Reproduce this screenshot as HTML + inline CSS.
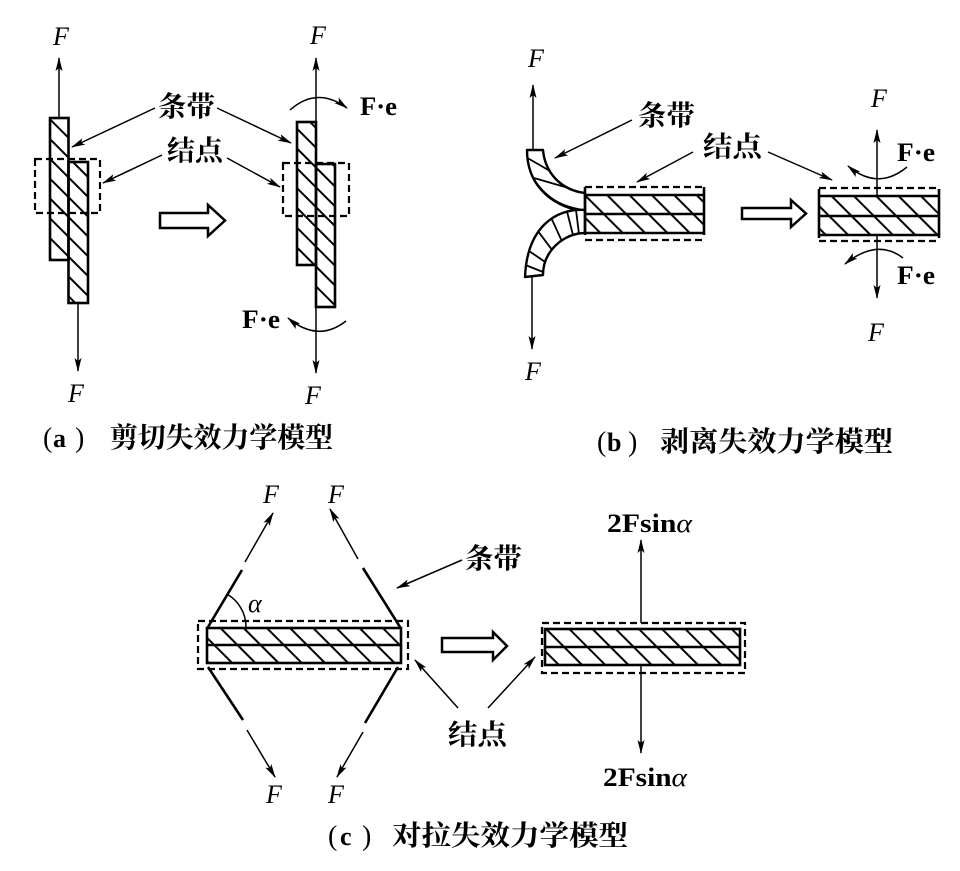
<!DOCTYPE html>
<html><head><meta charset="utf-8"><style>
html,body{margin:0;padding:0;background:#fff;}
svg{display:block;}
.cj{font-family:"Noto Serif CJK SC","Noto Serif CJK JP","Liberation Serif",serif;font-size:28px;font-weight:bold;}
.fi{font-family:"Liberation Serif",serif;font-style:italic;font-size:26px;}
.fb{font-family:"Liberation Serif",serif;font-weight:bold;font-size:26px;}
</style></head><body>
<svg width="960" height="871" viewBox="0 0 960 871" xmlns="http://www.w3.org/2000/svg">
<defs>
<marker id="ah" markerUnits="userSpaceOnUse" markerWidth="14" markerHeight="8" refX="13" refY="4" orient="auto" viewBox="0 0 14 8"><path d="M0,0.5 L14,4 L0,7.5 L3,4Z" fill="#000"/></marker>
<marker id="as" markerUnits="userSpaceOnUse" markerWidth="14" markerHeight="8" refX="13" refY="4" orient="auto-start-reverse" viewBox="0 0 14 8"><path d="M0,0.5 L14,4 L0,7.5 L3,4Z" fill="#000"/></marker>
<pattern id="h1" width="14" height="10" patternUnits="userSpaceOnUse" patternTransform="rotate(-45)"><line x1="7" y1="-1" x2="7" y2="11" stroke="#000" stroke-width="2"/></pattern>
<pattern id="h2" width="15.8" height="10" patternUnits="userSpaceOnUse" patternTransform="rotate(-45)"><line x1="7" y1="-1" x2="7" y2="11" stroke="#000" stroke-width="2"/></pattern>
<pattern id="h3" width="16.4" height="10" patternUnits="userSpaceOnUse" patternTransform="rotate(-45)"><line x1="7" y1="-1" x2="7" y2="11" stroke="#000" stroke-width="2"/></pattern>
</defs>
<rect width="960" height="871" fill="#fff"/>

<!-- ===== (a) left ===== -->
<g stroke="#000" fill="none">
<line x1="59" y1="118" x2="59" y2="58" stroke-width="1.5" marker-end="url(#ah)"/>
<line x1="78" y1="303" x2="78" y2="371" stroke-width="1.5" marker-end="url(#ah)"/>
<rect x="50" y="118" width="18.5" height="142" fill="url(#h1)" stroke-width="2.6"/>
<rect x="68.5" y="162" width="19.5" height="141" fill="url(#h1)" stroke-width="2.6"/>
<rect x="35" y="159" width="65" height="54" stroke-width="2.2" stroke-dasharray="7,4"/>
<line x1="155" y1="108" x2="72" y2="147" stroke-width="1.5" marker-end="url(#ah)"/>
<line x1="217" y1="108" x2="291" y2="143" stroke-width="1.5" marker-end="url(#ah)"/>
<line x1="162" y1="155" x2="103" y2="183" stroke-width="1.5" marker-end="url(#ah)"/>
<line x1="227" y1="158" x2="280" y2="187" stroke-width="1.5" marker-end="url(#ah)"/>
<polygon points="160,213 208,213 208,205 225,220.5 208,236 208,228 160,228" fill="#fff" stroke-width="2.5" stroke-linejoin="miter"/>
</g>
<text class="fi" x="53" y="45">F</text>
<text class="fi" x="68" y="402">F</text>
<text class="cj" x="158" y="116" textLength="57" lengthAdjust="spacingAndGlyphs">条带</text>
<text class="cj" x="167" y="160" textLength="56" lengthAdjust="spacingAndGlyphs">结点</text>

<!-- ===== (a) right ===== -->
<g stroke="#000" fill="none">
<line x1="316" y1="373" x2="316" y2="58" stroke-width="1.5" marker-start="url(#as)" marker-end="url(#ah)"/>
<rect x="297" y="122" width="19" height="143" fill="url(#h1)" stroke-width="2.6"/>
<rect x="316" y="164" width="19" height="143" fill="url(#h1)" stroke-width="2.6"/>
<rect x="283" y="163" width="66" height="53" stroke-width="2.2" stroke-dasharray="7,4"/>
<path d="M290,110 Q317,86 347,108" stroke-width="1.5" marker-end="url(#ah)"/>
<path d="M346,321 Q318,343 288,318" stroke-width="1.5" marker-end="url(#ah)"/>
</g>
<text class="fi" x="310" y="44">F</text>
<text class="fi" x="305" y="404">F</text>
<text class="fb" x="360" y="115" textLength="37" lengthAdjust="spacingAndGlyphs">F·e</text>
<text class="fb" x="242" y="328" textLength="38" lengthAdjust="spacingAndGlyphs">F·e</text>

<!-- ===== (b) left ===== -->
<g stroke="#000" fill="none">
<line x1="533" y1="150" x2="533" y2="85" stroke-width="1.5" marker-end="url(#ah)"/>
<line x1="532" y1="277" x2="532" y2="349" stroke-width="1.5" marker-end="url(#ah)"/>
<path d="M527,150 C527,180 545,205 585,212 L585,193 C560,190 545,172 543,150 Z" fill="#fff" stroke-width="2.4" stroke-linejoin="round"/>
<line x1="527.5" y1="158" x2="550" y2="171" stroke-width="1.8"/>
<line x1="534" y1="178" x2="565" y2="187" stroke-width="1.8"/>
<path d="M532,176 C545,198 562,207 585,210" stroke-width="1.6"/>
<path d="M585,210 C555,208 527,228 525,277 L543,275 C543,250 565,233 585,233 Z" fill="#fff" stroke-width="2.4" stroke-linejoin="round"/>
<line x1="576" y1="210" x2="579" y2="234" stroke-width="1.8"/>
<line x1="567" y1="211.5" x2="573" y2="235" stroke-width="1.8"/>
<line x1="551.6" y1="218.7" x2="561.7" y2="240.7" stroke-width="1.8"/>
<line x1="538.3" y1="231.6" x2="552" y2="249.8" stroke-width="1.8"/>
<line x1="529.2" y1="251.1" x2="545.4" y2="262.1" stroke-width="1.8"/>
<line x1="525.5" y1="265" x2="543" y2="272" stroke-width="1.8"/>
<rect x="585" y="195" width="119" height="38" fill="url(#h2)" stroke="none"/>
<line x1="585" y1="187" x2="585" y2="235" stroke-width="2.6"/>
<line x1="704" y1="187" x2="704" y2="235" stroke-width="2.6"/>
<line x1="585" y1="195" x2="704" y2="195" stroke-width="2.4"/>
<line x1="585" y1="214" x2="704" y2="214" stroke-width="2.4"/>
<line x1="585" y1="233" x2="704" y2="233" stroke-width="2.4"/>
<line x1="585" y1="187" x2="704" y2="187" stroke-width="2.2" stroke-dasharray="7,4"/>
<line x1="585" y1="240" x2="704" y2="240" stroke-width="2.2" stroke-dasharray="7,4"/>
<line x1="632" y1="120" x2="555" y2="158" stroke-width="1.5" marker-end="url(#ah)"/>
<line x1="693" y1="152" x2="637" y2="182" stroke-width="1.5" marker-end="url(#ah)"/>
<line x1="768" y1="152" x2="832" y2="180" stroke-width="1.5" marker-end="url(#ah)"/>
<polygon points="742,208 791,208 791,200 806,213.5 791,227 791,219 742,219" fill="#fff" stroke-width="2.5"/>
</g>
<text class="fi" x="528" y="67">F</text>
<text class="fi" x="525" y="380">F</text>
<text class="cj" x="638" y="125" textLength="57" lengthAdjust="spacingAndGlyphs">条带</text>
<text class="cj" x="703" y="156" textLength="59" lengthAdjust="spacingAndGlyphs">结点</text>

<!-- ===== (b) right ===== -->
<g stroke="#000" fill="none">
<line x1="877" y1="196" x2="877" y2="130" stroke-width="1.5" marker-end="url(#ah)"/>
<line x1="877" y1="235" x2="877" y2="298" stroke-width="1.5" marker-end="url(#ah)"/>
<rect x="819" y="196" width="120" height="39" fill="url(#h2)" stroke="none"/>
<line x1="819" y1="189" x2="819" y2="238" stroke-width="2.6"/>
<line x1="939" y1="189" x2="939" y2="238" stroke-width="2.6"/>
<line x1="819" y1="196" x2="939" y2="196" stroke-width="2.4"/>
<line x1="819" y1="216" x2="939" y2="216" stroke-width="2.4"/>
<line x1="819" y1="235" x2="939" y2="235" stroke-width="2.4"/>
<line x1="819" y1="188" x2="939" y2="188" stroke-width="2.2" stroke-dasharray="7,4"/>
<line x1="819" y1="241" x2="939" y2="241" stroke-width="2.2" stroke-dasharray="7,4"/>
<path d="M907,167 Q878,191 848,166" stroke-width="1.5" marker-end="url(#ah)"/>
<path d="M903,258 Q877,238 845,264" stroke-width="1.5" marker-end="url(#ah)"/>
</g>
<text class="fi" x="871" y="107">F</text>
<text class="fi" x="868" y="341">F</text>
<text class="fb" x="897" y="161" textLength="38" lengthAdjust="spacingAndGlyphs">F·e</text>
<text class="fb" x="897" y="284" textLength="38" lengthAdjust="spacingAndGlyphs">F·e</text>

<!-- captions a/b -->
<text x="43" y="447" font-family="Liberation Serif,serif" font-size="28">(</text>
<text x="53" y="447" font-family="Liberation Serif,serif" font-size="26" font-weight="bold">a</text>
<text x="75" y="447" font-family="Liberation Serif,serif" font-size="28">)</text>
<text class="cj" x="110" y="447" textLength="223" lengthAdjust="spacingAndGlyphs">剪切失效力学模型</text>

<text x="597" y="451" font-family="Liberation Serif,serif" font-size="28">(</text>
<text x="607" y="451" font-family="Liberation Serif,serif" font-size="26" font-weight="bold">b</text>
<text x="628" y="451" font-family="Liberation Serif,serif" font-size="28">)</text>
<text class="cj" x="660" y="451" textLength="233" lengthAdjust="spacingAndGlyphs">剥离失效力学模型</text>

<!-- ===== (c) left ===== -->
<g stroke="#000" fill="none">
<rect x="207" y="628" width="194" height="35" fill="url(#h3)" stroke-width="2.6"/>
<line x1="207" y1="645" x2="401" y2="645" stroke-width="2.4"/>
<rect x="198" y="621" width="210" height="48" stroke-width="2.2" stroke-dasharray="7,4"/>
<line x1="208" y1="627" x2="242" y2="570" stroke-width="2.6"/>
<line x1="400" y1="627" x2="363" y2="568" stroke-width="2.6"/>
<line x1="208" y1="667" x2="243" y2="720" stroke-width="2.6"/>
<line x1="398" y1="667" x2="365" y2="723" stroke-width="2.6"/>
<line x1="245" y1="562" x2="273" y2="513" stroke-width="1.5" marker-end="url(#ah)"/>
<line x1="358" y1="559" x2="330" y2="509" stroke-width="1.5" marker-end="url(#ah)"/>
<line x1="247" y1="730" x2="275" y2="777" stroke-width="1.5" marker-end="url(#ah)"/>
<line x1="363" y1="732" x2="337" y2="777" stroke-width="1.5" marker-end="url(#ah)"/>
<path d="M246,627 A38,38 0 0 0 227.5,594.4" stroke-width="1.5"/>
<line x1="462" y1="560" x2="397" y2="588" stroke-width="1.5" marker-end="url(#ah)"/>
<line x1="458" y1="708" x2="415" y2="660" stroke-width="1.5" marker-end="url(#ah)"/>
<line x1="488" y1="708" x2="535" y2="657" stroke-width="1.5" marker-end="url(#ah)"/>
<polygon points="442,638 493,638 493,632 507,646 493,660 493,652 442,652" fill="#fff" stroke-width="2.5"/>
</g>
<text class="fi" x="263" y="503">F</text>
<text class="fi" x="328" y="503">F</text>
<text class="fi" x="266" y="803">F</text>
<text class="fi" x="328" y="803">F</text>
<text x="248" y="612" font-family="Liberation Serif,serif" font-style="italic" font-size="26">α</text>
<text class="cj" x="465" y="568" textLength="57" lengthAdjust="spacingAndGlyphs">条带</text>
<text class="cj" x="448" y="744" textLength="59" lengthAdjust="spacingAndGlyphs">结点</text>

<!-- ===== (c) right ===== -->
<g stroke="#000" fill="none">
<line x1="641" y1="623" x2="641" y2="540" stroke-width="1.5" marker-end="url(#ah)"/>
<line x1="641" y1="665" x2="641" y2="753" stroke-width="1.5" marker-end="url(#ah)"/>
<rect x="545" y="629" width="195" height="36" fill="url(#h3)" stroke-width="2.6"/>
<line x1="545" y1="647" x2="740" y2="647" stroke-width="2.4"/>
<rect x="542" y="623" width="203" height="50" stroke-width="2.2" stroke-dasharray="7,4"/>
</g>
<text x="607" y="532" font-family="Liberation Serif,serif" font-size="26" textLength="85" lengthAdjust="spacingAndGlyphs"><tspan font-weight="bold">2Fsin</tspan><tspan font-style="italic">α</tspan></text>
<text x="603" y="786" font-family="Liberation Serif,serif" font-size="26" textLength="84" lengthAdjust="spacingAndGlyphs"><tspan font-weight="bold">2Fsin</tspan><tspan font-style="italic">α</tspan></text>

<!-- caption c -->
<text x="328" y="845" font-family="Liberation Serif,serif" font-size="28">(</text>
<text x="340" y="845" font-family="Liberation Serif,serif" font-size="26" font-weight="bold">c</text>
<text x="362" y="845" font-family="Liberation Serif,serif" font-size="28">)</text>
<text class="cj" x="392" y="845" textLength="236" lengthAdjust="spacingAndGlyphs">对拉失效力学模型</text>
</svg>
</body></html>
